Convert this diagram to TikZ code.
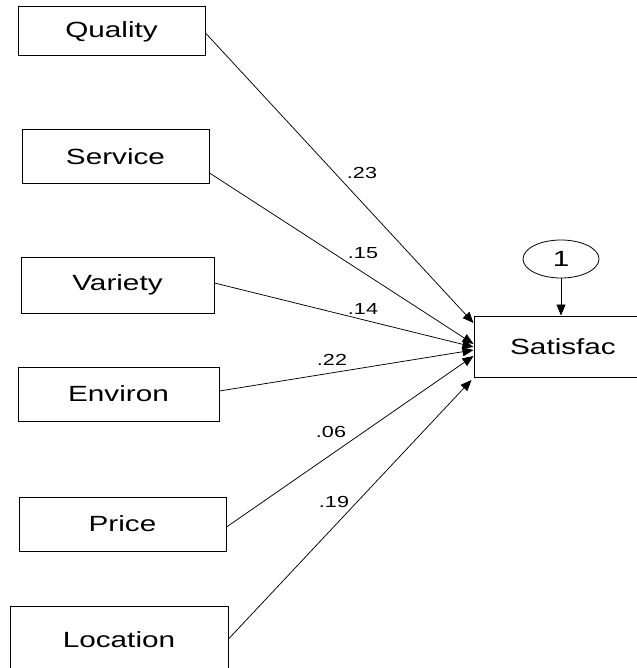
\documentclass[tikz,border=0pt]{standalone}
\usepackage{fontspec}
\setmainfont{Liberation Sans}[FakeStretch=1.35]
\usetikzlibrary{shapes.geometric, arrows.meta}

\begin{document}
\begin{tikzpicture}[
  x=1pt, y=-1pt,
  obs/.style={draw, line width=1pt, minimum height=54pt, inner sep=0pt,
              font=\fontsize{22}{26}\selectfont},
  err/.style={draw, ellipse, line width=0.8pt, minimum width=76pt,
              minimum height=38pt, inner sep=0pt,
              font=\fontsize{22}{26}\selectfont},
  wlabel/.style={font=\fontsize{16}{19}\selectfont, inner sep=0pt},
  reg/.style={line width=0.75pt, -{Triangle[length=11pt,width=9pt]}},
]
\useasboundingbox (0,0) rectangle (636,668);

% predictors
\node[obs, minimum width=187pt, minimum height=49pt] (qual) at (111.5,31.5) {Quality};
\node[obs, minimum width=187pt] (serv) at (115.5,157) {Service};
\node[obs, minimum width=193pt, minimum height=56pt] (vari) at (117.5,285) {Variety};
\node[obs, minimum width=201pt] (envi) at (118.5,394) {Environ};
\node[obs, minimum width=207pt] (pric) at (122.5,524) {Price};
\node[obs, minimum width=218pt, minimum height=68pt] (loca) at (119,640) {Location};

% outcome and its error term
\node[obs, minimum width=178pt, minimum height=61pt] (sat) at (563,346.5) {Satisfac};
\node[err] (e1) at (561,259) {1};

\draw[reg] ([yshift=-1.5pt]qual.east) -- ([yshift=23.5pt]sat.west);
\draw[reg] ([yshift=-16pt]serv.east) -- ([yshift=2.5pt]sat.west);
\draw[reg] ([yshift=2pt]vari.east) -- ([yshift=-0.5pt]sat.west);
\draw[reg] ([yshift=3pt]envi.east) -- ([yshift=-3.5pt]sat.west);
\draw[reg] ([yshift=-3pt]pric.east) -- ([yshift=-9.5pt]sat.west);
\draw[reg] ([yshift=1pt]loca.east) -- ([xshift=-2pt,yshift=-33.5pt]sat.west);
\draw[reg] (e1.south) -- (e1.south |- sat.north);

% weights
\node[wlabel] (w1) at (362,173) {.23};
\node[wlabel] (w2) at (363,253) {.15};
\node[wlabel] (w3) at (363,309) {.14};
\node[wlabel] (w4) at (332,360) {.22};
\node[wlabel] (w5) at (331,432) {.06};
\node[wlabel] (w6) at (334,502) {.19};
\end{tikzpicture}
\end{document}
